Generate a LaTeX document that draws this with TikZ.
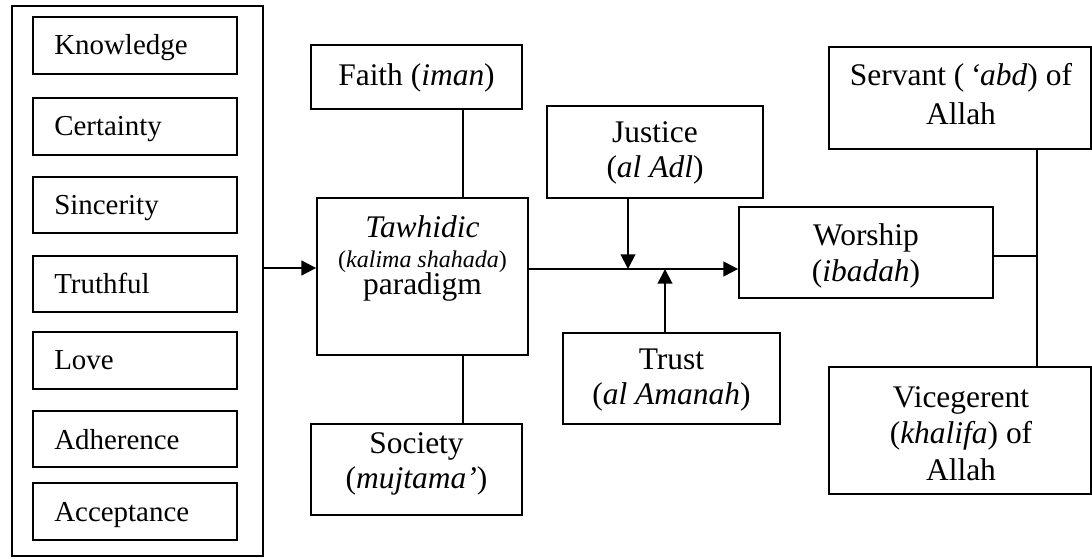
\documentclass[tikz,border=0pt]{standalone}
\usepackage{fontspec}
\setmainfont{Liberation Serif}
\usetikzlibrary{arrows.meta,fit}
\newcommand\fmain{\fontsize{23.6pt}{28pt}\selectfont}
\newcommand\flist{\fontsize{21.7pt}{26pt}\selectfont}
\newcommand\fsmall{\fontsize{18pt}{22pt}\selectfont}
\begin{document}
\begin{tikzpicture}[x=0.75pt,y=-0.75pt,
  box/.style={draw, line width=1.3pt, inner sep=0pt},
  thinline/.style={line width=0.9pt},
  arr/.style={line width=1.5pt, -{Triangle[length=11pt,width=11pt]}},
  txt/.style={anchor=base, inner sep=0pt, font=\fmain},
  ltxt/.style={anchor=base west, inner sep=0pt, font=\flist}]
\useasboundingbox (0,0) rectangle (1092,559);

% left column
\node[box, fit={(12,6) (263,556)}] (outer) {};
\foreach \t/\b/\w [count=\i] in {17/74/Knowledge, 98/155/Certainty, 177/233/Sincerity, 256/312/Truthful, 332/389/Love, 411/467/Adherence, 483/540/Acceptance} {
  \node[box, fit={(33,\t) (237,\b)}] (q\i) {};
  \node[ltxt] (q\i t) at (54,\t+38) {\w};
}

% boxes
\node[box, fit={(311,45) (522,109)}] (faith) {};
\node[txt] (faitht) at (416.5,86) {Faith (\textit{iman})};

\node[box, fit={(317,198) (528,355)}] (tawhid) {};
\node[txt] (tawhid1) at (422.5,238) {\textit{Tawhidic}};
\node[txt, font=\fsmall] (tawhid2) at (422.5,268) {(\textit{kalima shahada})};
\node[txt] (tawhid3) at (422.5,295) {paradigm};

\node[box, fit={(311,424) (522,515)}] (society) {};
\node[txt] (society1) at (416.5,453) {Society};
\node[txt] (society2) at (416.5,488) {(\textit{mujtama’})};

\node[box, fit={(547,106) (763,198)}] (justice) {};
\node[txt] (justice1) at (655,143) {Justice};
\node[txt] (justice2) at (655,178) {(\textit{al Adl})};

\node[box, fit={(563,333) (780,424)}] (trust) {};
\node[txt] (trust1) at (671.5,370) {Trust};
\node[txt] (trust2) at (671.5,405) {(\textit{al Amanah})};

\node[box, fit={(739,207) (993,298)}] (worship) {};
\node[txt] (worship1) at (866,246) {Worship};
\node[txt] (worship2) at (866,282) {(\textit{ibadah})};

\node[box, fit={(829,47) (1091,149)}] (servant) {};
\node[txt] (servant1) at (961,86) {Servant (\,\textit{‘abd}) of};
\node[txt] (servant2) at (961,124.5) {Allah};

\node[box, fit={(829,367) (1091,494)}] (vice) {};
\node[txt] (vice1) at (961,407) {Vicegerent};
\node[txt] (vice2) at (961,443.5) {(\textit{khalifa}) of};
\node[txt] (vice3) at (961,480) {Allah};

% helper coordinates
\coordinate (ya) at (0,268);
\coordinate (yb) at (0,269);
\coordinate (fl) at (463,0);
\coordinate (ja) at (628,269);
\coordinate (ta) at (665,269);
\coordinate (vx) at (1037,256);

% connectors
\draw[arr] (outer.east |- ya) -- (tawhid.west |- ya);
\draw[arr] (tawhid.east |- yb) -- (worship.west |- yb);
\draw[arr] (justice.south -| ja) -- (ja);
\draw[arr] (trust.north -| ta) -- (ta);
\draw[thinline] (faith.south -| fl) -- (tawhid.north -| fl);
\draw[thinline] (tawhid.south -| fl) -- (society.north -| fl);
\draw[thinline] (servant.south -| vx) -- (vice.north -| vx);
\draw[thinline] (worship.east |- vx) -- (vx);
\end{tikzpicture}
\end{document}
